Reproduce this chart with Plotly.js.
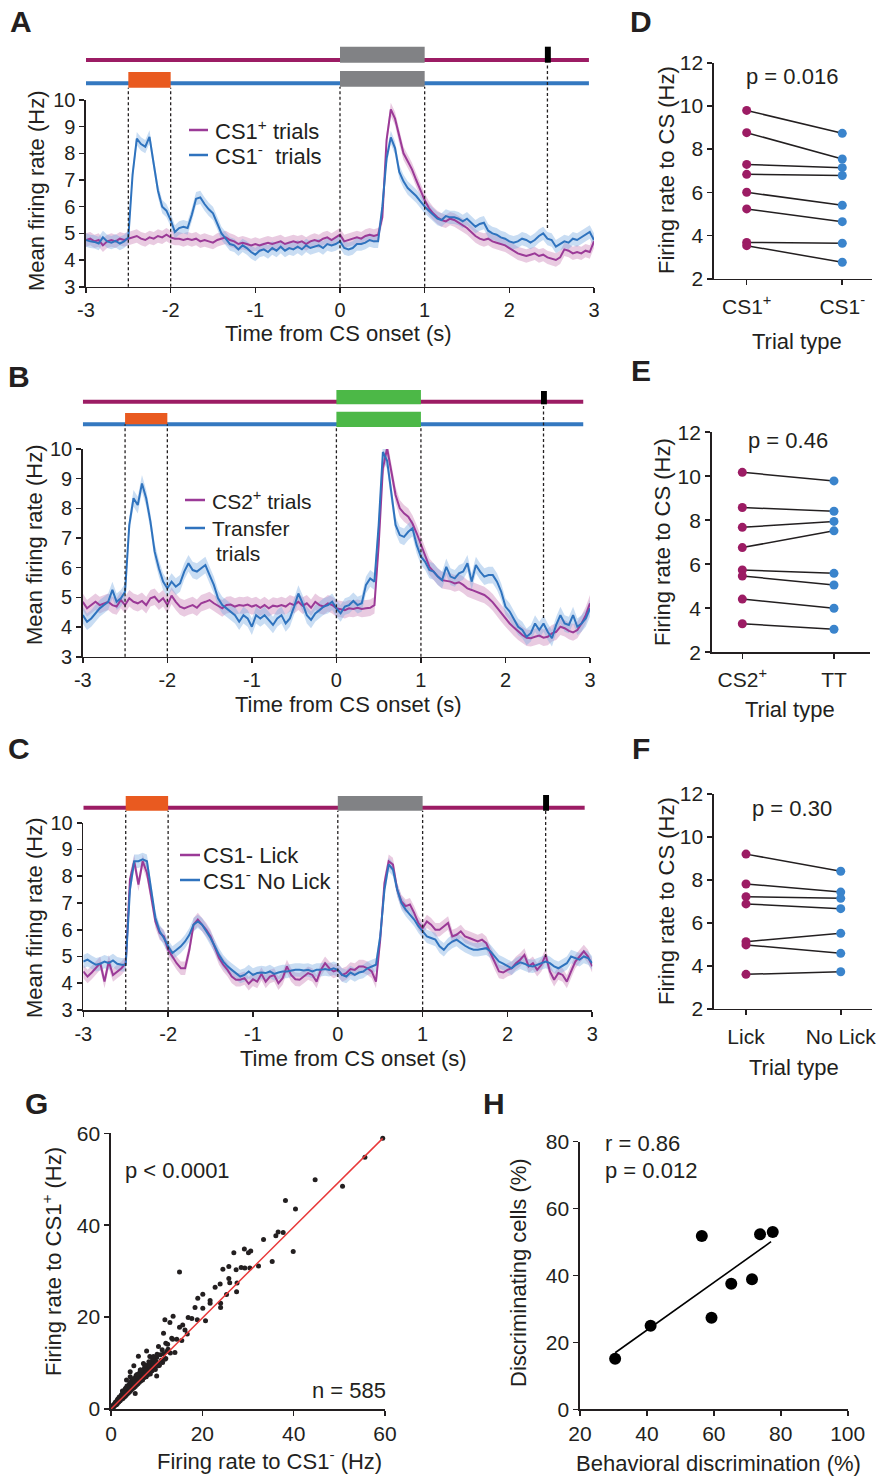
<!DOCTYPE html>
<html><head><meta charset="utf-8">
<script src="https://cdn.plot.ly/plotly-3.0.1.min.js"></script>
<style>html,body{margin:0;padding:0;background:#fff}#chart{width:881px;height:1477px}</style>
</head><body><div id="chart"></div>
<script>
// ---------------- DATA ----------------
const timeSec = Array.from({length:121}, (_, i) => +(-3 + 0.05*i).toFixed(2));
const timeTickVals = [-3,-2,-1,0,1,2,3];
const timeTickText = ['-3','-2','-1','0','1','2','3'];
const rateTickVals = [3,4,5,6,7,8,9,10];

// event times (s)
const cueOn = -2.5, cueOff = -2.0, csOn = 0, csOff = 1, rewardOn = 2.42, rewardOff = 2.49, rewardLine = 2.45, barEnd = 2.94;

// Panel A: CS1+ trials vs CS1- trials (Hz)
const aCS1plus = [4.75,4.8,4.7,4.75,4.55,4.7,4.75,4.7,4.8,4.75,
 4.8,4.85,4.9,4.8,4.75,4.85,4.8,4.9,4.85,4.95,
 4.85,4.8,4.8,4.75,4.8,4.75,4.8,4.7,4.75,4.7,
 4.65,4.75,4.8,4.85,4.75,4.7,4.6,4.65,4.6,4.55,
 4.6,4.55,4.6,4.65,4.6,4.65,4.7,4.6,4.65,4.7,
 4.65,4.7,4.6,4.7,4.75,4.7,4.8,4.85,4.75,4.85,
 4.95,4.7,4.75,4.8,4.85,4.8,4.9,4.95,4.9,4.95,
 5.6,8.5,9.65,9.3,8.6,8.0,7.7,7.4,7.0,6.6,
 6.25,5.95,5.75,5.6,5.5,5.45,5.55,5.5,5.4,5.3,
 5.2,5.05,4.9,4.8,4.75,4.8,4.7,4.65,4.6,4.55,
 4.45,4.35,4.25,4.2,4.15,4.2,4.25,4.15,4.2,4.1,
 4.05,4.0,4.1,4.4,4.35,4.25,4.3,4.25,4.35,4.3,
 4.7];
const aCS1minus = [4.75,4.70,4.68,4.62,4.85,4.70,4.65,4.72,4.62,4.70,
 4.85,7.2,8.55,8.35,8.25,8.62,7.6,6.6,6.0,5.85,
 5.5,5.05,5.2,5.25,5.2,5.7,6.3,6.35,6.1,5.9,
 5.75,5.4,5.0,4.8,4.6,4.55,4.4,4.55,4.45,4.3,
 4.2,4.35,4.4,4.3,4.45,4.35,4.5,4.35,4.45,4.4,
 4.5,4.4,4.55,4.45,4.5,4.55,4.45,4.6,4.55,4.6,
 4.7,4.45,4.4,4.45,4.6,4.6,4.65,4.75,4.7,4.7,
 6.0,7.8,8.6,8.2,7.3,6.95,6.7,6.55,6.4,6.2,
 6.0,5.85,5.7,5.55,5.5,5.65,5.6,5.6,5.55,5.45,
 5.55,5.4,5.25,5.35,5.4,5.1,5.0,4.95,4.85,4.8,
 4.7,4.65,4.7,4.8,4.75,4.65,4.75,4.9,5.0,4.8,
 4.75,4.5,4.6,4.7,4.65,4.8,4.75,4.85,4.95,5.05,
 4.75];

// Panel B: CS2+ trials vs Transfer trials (Hz)
const bCS2plus = [4.85,4.63,4.74,4.85,4.74,4.80,4.85,4.74,4.69,4.91,
 4.74,4.97,4.85,4.80,4.88,4.74,4.97,5.02,4.85,4.97,
 4.74,5.06,4.85,4.69,4.63,4.69,4.74,4.65,4.80,4.85,
 4.91,4.80,4.72,4.63,4.74,4.76,4.69,4.74,4.72,4.76,
 4.69,4.74,4.65,4.74,4.63,4.72,4.69,4.74,4.69,4.80,
 4.74,4.85,4.72,4.80,4.65,4.85,4.74,4.69,4.80,4.74,
 4.63,4.61,4.57,4.63,4.61,4.65,4.61,4.63,4.65,4.74,
 6.76,9.35,10.02,9.24,8.45,8.0,7.83,7.72,7.49,7.16,
 6.76,6.37,6.03,5.87,5.70,5.58,5.55,5.53,5.47,5.51,
 5.42,5.30,5.25,5.19,5.13,5.08,4.97,4.83,4.65,4.46,
 4.29,4.12,3.98,3.84,3.73,3.64,3.62,3.67,3.71,3.64,
 3.67,3.79,3.84,4.01,3.96,3.87,3.82,3.90,4.12,4.40,
 4.80];
const bTransfer = [4.40,4.18,4.29,4.46,4.63,4.74,4.85,5.25,4.85,4.97,
 5.19,7.44,8.34,8.11,8.84,8.34,7.55,6.54,5.98,5.53,
 5.30,5.53,5.36,5.47,5.87,6.15,5.92,5.87,5.98,6.09,
 5.75,5.42,4.97,4.74,4.63,4.52,4.40,4.18,4.40,4.29,
 4.01,4.40,4.29,4.40,4.24,4.07,4.29,4.40,4.12,4.29,
 4.69,5.13,4.80,4.40,4.24,4.46,4.57,4.69,4.74,4.85,
 4.63,4.46,4.69,4.74,4.88,4.74,4.80,5.42,5.64,5.53,
 7.44,9.9,9.6,8.45,7.44,7.10,7.04,7.21,7.33,6.76,
 6.37,6.20,5.92,5.87,5.70,5.58,6.03,5.70,5.64,5.81,
 5.87,6.15,5.53,6.09,5.87,5.70,5.75,5.75,5.53,5.19,
 4.69,4.52,4.24,4.01,3.90,3.67,3.79,4.12,3.90,4.12,
 3.84,3.62,4.07,4.40,4.12,4.07,4.40,4.01,4.12,4.29,
 4.63];

// Panel C: CS1- Lick vs CS1- No Lick (Hz)
const cLick = [4.44,4.25,4.40,4.56,4.75,4.06,4.81,4.31,4.44,4.56,
 4.75,7.88,8.56,7.69,8.56,8.13,7.25,6.31,5.88,5.75,
 5.25,5.0,4.75,4.56,4.56,5.25,6.19,6.38,6.19,6.0,
 5.75,5.31,4.94,4.69,4.5,4.25,4.13,4.13,4.19,3.98,
 4.15,4.06,4.35,4.06,4.25,4.31,4.0,4.19,4.63,4.31,
 4.15,4.13,4.25,4.38,4.31,4.06,4.5,4.75,4.56,4.44,
 4.5,4.31,4.38,4.53,4.5,4.63,4.63,4.56,4.44,4.06,
 5.63,7.75,8.56,8.44,7.5,7.06,6.88,6.94,6.63,6.25,
 6.06,6.31,6.19,6.0,6.0,6.13,6.25,5.75,5.81,5.94,
 5.75,5.69,5.63,5.56,5.63,5.5,5.13,4.75,4.44,4.40,
 4.5,4.56,4.75,4.88,5.06,4.63,4.75,4.5,4.69,5.06,
 4.44,4.13,4.38,4.31,4.06,4.44,4.81,5.0,5.19,5.0,
 4.63];
const cNoLick = [4.81,4.88,4.78,4.69,4.73,4.81,4.75,4.85,4.73,4.69,
 4.69,7.5,8.56,8.56,8.63,8.56,7.5,6.44,5.94,5.69,
 5.38,5.13,5.25,5.38,5.56,5.81,6.19,6.31,6.19,5.94,
 5.69,5.38,5.06,4.81,4.63,4.5,4.38,4.25,4.31,4.44,
 4.31,4.38,4.40,4.38,4.44,4.35,4.40,4.44,4.44,4.48,
 4.5,4.5,4.48,4.5,4.44,4.5,4.5,4.53,4.5,4.56,
 4.5,4.31,4.25,4.40,4.31,4.40,4.44,4.56,4.63,4.69,
 5.75,7.5,8.44,8.25,7.5,7.0,6.75,6.56,6.38,6.13,
 5.94,5.75,5.69,5.63,5.38,5.25,5.44,5.56,5.63,5.5,
 5.4,5.31,5.25,5.25,5.28,5.31,5.19,5.0,4.81,4.73,
 4.65,4.56,4.69,4.78,4.73,4.65,4.63,4.69,4.75,4.81,
 4.75,4.63,4.56,4.65,4.75,5.0,4.94,4.88,5.0,4.94,
 4.75];
const semA = 0.25, semB = 0.28, semC = 0.25;

// Panels D-F: per-animal firing rate to CS (Hz)
const dCategories = ['CS1<sup>+</sup>', 'CS1<sup>-</sup>'];
const dCS1plus  = [9.79, 8.76, 7.29, 6.83, 6.00, 5.23, 3.68, 3.53];
const dCS1minus = [8.73, 7.54, 7.14, 6.78, 5.40, 4.64, 3.64, 2.76];
const eCategories = ['CS2<sup>+</sup>', 'TT'];
const eCS2plus  = [10.18, 8.58, 7.68, 6.76, 5.74, 5.47, 4.42, 3.30];
const eTT       = [9.79, 8.41, 7.95, 7.52, 5.59, 5.06, 4.00, 3.05];
const fCategories = ['Lick', 'No Lick'];
const fLick     = [9.20, 7.81, 7.22, 6.88, 5.12, 4.97, 3.60];
const fNoLick   = [8.40, 7.43, 7.14, 6.66, 5.51, 4.58, 3.72];
const rateTicks = [2,4,6,8,10,12];

// Panel G: per-cell firing rates (Hz)
const gCS1minus = [59.5,55.6,44.7,50.7,38.2,40.4,33.4,36.1,36.6,37.7,39.9,35.3,32.3,30.4,29.3,28.5,26.9,29.2,30.1,30.6,
 15.0,24.5,25.8,27.4,25.8,26.0,27.6,23.9,22.8,25.3,27.5,20.1,19.0,21.7,21.7,24.0,24.0,18.4,20.1,20.7,
 18.9,16.9,17.7,11.8,13.6,12.9,15.0,15.7,16.2,16.7,15.5,13.3,11.5,14.4,12.0,10.4,7.8,6.0,5.0,10.0,
 14.0,12.2,11.3,9.4,8.5,7.1,6.4,4.2,4.2,3.4,5.3,
 0.2,0.3,0.4,0.5,0.6,0.7,0.8,0.9,1.0,1.1,1.2,1.3,1.4,1.5,1.6,1.7,1.8,1.9,2.0,2.1,
 2.2,2.3,2.4,2.5,2.6,2.7,2.8,2.9,3.0,3.1,3.2,3.3,3.4,3.5,3.6,3.7,3.8,3.9,4.0,4.1,
 4.2,4.3,4.4,4.5,4.6,4.7,4.8,4.9,5.0,5.1,5.2,5.3,5.4,5.5,5.6,5.7,5.8,5.9,6.0,6.1,
 6.2,6.3,6.4,6.5,6.6,6.7,6.8,7.0,7.1,7.2,7.4,7.5,7.6,7.8,7.9,8.0,8.2,8.4,8.5,8.7,
 8.9,9.0,9.2,9.5,9.6,10.0,10.2,10.4,10.8,11.0,11.5,12.0,12.5,13.0,
 0.1,0.3,0.6,1.0,1.4,1.8,2.2,2.6,3.0,3.4,3.8,4.2,4.6,5.0,5.4,5.8,6.2,
 0.5,1.2,2.0,2.8,3.6,4.4,5.2,6.0,6.8,7.6,8.4,9.0,9.8,3.0,4.0,5.0,6.0,7.0,8.0,
 2.5,3.5,4.5,5.5,6.5,7.5,
 1.5,2.3,3.1,3.9,4.7,5.6,6.4,7.3,8.1,9.1,10.1,11.2,12.4,13.5,6.9,7.7,8.6,9.7,10.6,11.8,
 3.2,4.1,4.9,5.7,6.6,7.4,8.3,9.3,2.9,3.7];
const gCS1plus = [58.9,54.8,49.9,48.5,45.4,43.5,36.9,37.7,38.5,38.4,34.3,32.1,31.1,30.7,30.7,30.8,34.0,34.8,34.0,34.4,
 29.8,30.4,31.0,30.3,28.4,27.5,27.4,27.2,26.5,24.9,25.5,25.0,24.1,23.6,23.0,23.0,22.1,22.1,21.9,19.2,
 19.4,19.9,19.7,19.4,20.2,18.8,17.8,18.3,17.2,16.3,14.9,15.4,16.5,15.2,14.3,13.6,12.6,11.5,9.4,7.2,
 12.3,12.5,10.1,10.8,11.4,9.9,8.5,8.1,7.0,6.3,3.4,
 0.3,0.5,0.4,0.8,0.6,1.0,0.7,1.3,1.1,0.9,1.6,1.4,1.2,2.0,1.7,1.5,2.3,2.0,1.8,2.6,
 2.4,2.1,3.0,2.7,2.3,3.3,3.0,2.6,3.7,3.3,2.9,4.0,3.6,3.2,4.4,3.9,3.5,4.7,4.2,3.8,
 5.0,4.6,4.1,5.4,4.9,4.4,5.7,5.2,4.6,6.0,5.5,4.9,6.3,5.8,5.2,6.7,6.1,5.5,7.0,6.4,
 5.8,7.4,6.7,6.1,7.8,7.0,6.4,8.2,7.4,6.8,8.6,7.8,7.1,9.0,8.2,7.4,9.4,8.6,7.8,10.0,
 9.0,8.3,10.5,9.6,8.8,11.2,10.0,9.4,11.8,10.6,12.0,11.0,13.0,12.2,
 0.1,0.2,0.9,1.5,1.9,2.6,2.9,3.5,4.1,4.5,4.9,5.5,5.9,6.4,6.9,7.3,7.8,
 0.3,1.0,2.4,3.4,4.1,5.1,5.9,6.6,7.5,8.4,9.2,9.8,10.4,2.8,3.8,5.3,6.0,7.2,8.0,
 3.9,5.0,6.2,7.3,8.5,9.3,
 2.2,3.1,4.3,5.1,6.0,7.1,7.9,8.8,9.6,10.9,11.9,12.9,14.1,15.2,6.3,7.0,7.6,8.6,9.5,10.8,
 4.5,5.6,6.6,7.5,8.4,9.5,10.3,11.4,3.8,4.8];
const gFitX = [0, 59.5], gFitY = [0, 58.9];

// Panel H: per-animal discrimination (%)
const hBehavior = [30.5, 41.1, 56.4, 59.3, 65.2, 71.4, 73.8, 77.6];
const hCells    = [15.1, 25.0, 51.8, 27.4, 37.5, 38.9, 52.3, 53.0];
const hFitX = [30.5, 77.1], hFitY = [16.9, 50.1];

// ---------------- STYLE ----------------
const W = 881, H = 1477;
const fx = p => p / W, fy = p => 1 - p / H;
const FONT = 'Liberation Sans, Arial, Helvetica, sans-serif';
const INK = '#231f20';
const MAG = '#9b3a97', MAG_BAND = 'rgba(200,125,180,0.40)';
const BLU = '#2f73be', BLU_BAND = 'rgba(120,170,225,0.40)';
const MAG_DOT = '#9c1c64', BLU_DOT = '#3a84cc';
const MAG_BAR = '#9c1c64', BLU_BAR = '#3478c0';
const GRAY = '#818285', ORANGE = '#e95a20', GREEN = '#4cb847';
const TICK_TS = 20, TICK_SM = 21, TITLE = 22;

const traces = [];
function addTimeSeries(xa, ya, series) {
  series.forEach(s => {
    const up = s.v.map(a => a + s.sem), lo = s.v.map(a => a - s.sem);
    traces.push({x: timeSec.concat(timeSec.slice().reverse()), y: up.concat(lo.slice().reverse()),
      fill: 'toself', fillcolor: s.band, line: {width: 0}, mode: 'lines', showlegend: false,
      hoverinfo: 'skip', xaxis: xa, yaxis: ya});
  });
  series.forEach(s => {
    traces.push({x: timeSec, y: s.v, mode: 'lines', line: {color: s.color, width: 2},
      name: s.name, showlegend: false, xaxis: xa, yaxis: ya});
  });
}
const seriesA = [
  {v: aCS1plus, sem: semA, color: MAG, band: MAG_BAND, name: 'CS1<sup>+</sup> trials'},
  {v: aCS1minus, sem: semA, color: BLU, band: BLU_BAND, name: 'CS1<sup>-</sup>  trials'}];
const seriesB = [
  {v: bCS2plus, sem: semB, color: MAG, band: MAG_BAND, name: 'CS2<sup>+</sup> trials'},
  {v: bTransfer, sem: semB, color: BLU, band: BLU_BAND, name: 'Transfer'}];
const seriesC = [
  {v: cLick, sem: semC, color: MAG, band: MAG_BAND, name: 'CS1- Lick'},
  {v: cNoLick, sem: semC, color: BLU, band: BLU_BAND, name: 'CS1<sup>-</sup> No Lick'}];
addTimeSeries('x', 'y', seriesA);
addTimeSeries('x2', 'y2', seriesB);
addTimeSeries('x3', 'y3', seriesC);

function addPairs(xa, ya, cats, a, b) {
  a.forEach((va, i) => {
    traces.push({x: [cats[0], cats[1]], y: [va, b[i]], mode: 'lines+markers',
      line: {color: INK, width: 1.5}, marker: {size: 9, color: [MAG_DOT, BLU_DOT]},
      showlegend: false, cliponaxis: false, xaxis: xa, yaxis: ya});
  });
}
addPairs('x4', 'y4', dCategories, dCS1plus, dCS1minus);
addPairs('x5', 'y5', eCategories, eCS2plus, eTT);
addPairs('x6', 'y6', fCategories, fLick, fNoLick);

traces.push({x: gCS1minus, y: gCS1plus, mode: 'markers', marker: {size: 5, color: INK},
  showlegend: false, cliponaxis: false, xaxis: 'x7', yaxis: 'y7'});
traces.push({x: gFitX, y: gFitY, mode: 'lines', line: {color: '#e8393a', width: 1.5},
  showlegend: false, xaxis: 'x7', yaxis: 'y7'});
traces.push({x: hFitX, y: hFitY, mode: 'lines', line: {color: '#000', width: 1.6},
  showlegend: false, xaxis: 'x8', yaxis: 'y8'});
traces.push({x: hBehavior, y: hCells, mode: 'markers', marker: {size: 12, color: '#000'},
  showlegend: false, cliponaxis: false, xaxis: 'x8', yaxis: 'y8'});

// ---------------- AXES ----------------
const base = {showline: true, linecolor: INK, linewidth: 1.6, ticks: 'outside', ticklen: 5,
  tickwidth: 1.6, tickcolor: INK, showgrid: false, zeroline: false, fixedrange: true,
  tickfont: {family: FONT, size: TICK_TS, color: INK}};
const smallFont = {family: FONT, size: TICK_SM, color: INK};
const timeX = (d, a) => Object.assign({}, base, {domain: d, anchor: a, range: [-3, 3],
  tickmode: 'array', tickvals: timeTickVals, ticktext: timeTickText});
const rateY = (d, a) => Object.assign({}, base, {domain: d, anchor: a, range: [3, 10],
  tickmode: 'array', tickvals: rateTickVals});
const catX = (d, a, r) => Object.assign({}, base, {domain: d, anchor: a, type: 'category', range: r,
  tickfont: smallFont, ticklabelstandoff: 3});
const csY = (d, a) => Object.assign({}, base, {domain: d, anchor: a, range: [2, 12],
  tickmode: 'array', tickvals: rateTicks, tickfont: smallFont});

// ---------------- SHAPES ----------------
const shapes = [];
function hline(xref, x0, x1, y, color) {
  shapes.push({type: 'line', xref, yref: 'paper', x0, x1, y0: fy(y), y1: fy(y), line: {color, width: 4}});
}
function rect(xref, x0, x1, yTop, yBot, color) {
  shapes.push({type: 'rect', xref, yref: 'paper', x0, x1, y0: fy(yBot), y1: fy(yTop), fillcolor: color, line: {width: 0}});
}
function vdash(xref, x, yTop, yBot) {
  shapes.push({type: 'line', xref, yref: 'paper', x0: x, x1: x, y0: fy(yBot), y1: fy(yTop),
    line: {color: INK, width: 1.3, dash: '3px,2.5px'}});
}
// Panel A
hline('x', -3, barEnd, 60, MAG_BAR); hline('x', -3, barEnd, 83.3, BLU_BAR);
rect('x', csOn, csOff, 46.7, 62.7, GRAY); rect('x', csOn, csOff, 71, 86.7, GRAY);
rect('x', cueOn, cueOff, 72, 87.7, ORANGE); rect('x', rewardOn, rewardOff, 46.7, 62.7, '#000');
[cueOn, cueOff].forEach(t => vdash('x', t, 87.7, 286.7));
[csOn, csOff].forEach(t => vdash('x', t, 86.7, 286.7));
vdash('x', rewardLine, 62.7, 228);
// Panel B
hline('x2', -3, 2.92, 401.7, MAG_BAR); hline('x2', -3, 2.92, 424.3, BLU_BAR);
rect('x2', csOn, csOff, 390, 404.3, GREEN); rect('x2', csOn, csOff, 411.7, 427, GREEN);
rect('x2', cueOn, cueOff, 413, 424.3, ORANGE); rect('x2', rewardOn, rewardOff, 391, 404.3, '#000');
[cueOn, cueOff].forEach(t => vdash('x2', t, 424.3, 656.7));
[csOn, csOff].forEach(t => vdash('x2', t, 427, 656.7));
vdash('x2', rewardLine, 404.3, 618);
// Panel C
hline('x3', -3, 2.91, 807.7, MAG_BAR);
rect('x3', cueOn, cueOff, 796, 810.7, ORANGE); rect('x3', csOn, csOff, 796, 810.7, GRAY);
rect('x3', rewardOn, rewardOff, 795, 810.7, '#000');
[cueOn, cueOff, csOn, csOff].forEach(t => vdash('x3', t, 810.7, 1010));
vdash('x3', rewardLine, 810.7, 957);

// ---------------- ANNOTATIONS ----------------
const ann = [];
function txt(text, x, y, opt) {
  ann.push(Object.assign({text, x: fx(x), y: fy(y), xref: 'paper', yref: 'paper', showarrow: false,
    xanchor: 'center', yanchor: 'middle', borderpad: 0,
    font: {family: FONT, size: TITLE, color: INK}}, opt || {}));
}
// hand-placed legends (short line sample + label)
function legendItem(s, x0, x1, y, tx, fsize) {
  shapes.push({type: 'line', xref: 'paper', yref: 'paper', x0: fx(x0), x1: fx(x1), y0: fy(y), y1: fy(y),
    line: {color: s.color, width: 2.5}});
  txt(s.name, tx, y, {xanchor: 'left', font: {family: FONT, size: fsize || TITLE, color: INK}});
}
legendItem(seriesA[0], 189, 208, 130, 214); legendItem(seriesA[1], 189, 208, 155, 214);
legendItem(seriesB[0], 185, 205, 500, 211, 21); legendItem(seriesB[1], 185, 205, 528, 211, 21);
txt('trials', 215, 553, {xanchor: 'left', font: {family: FONT, size: 21, color: INK}});
legendItem(seriesC[0], 180, 200, 855, 202); legendItem(seriesC[1], 180, 200, 880, 202);

const bold = {font: {family: FONT, size: 30, color: INK, weight: 'bold'}};
txt('<b>A</b>', 21, 22, bold); txt('<b>B</b>', 19, 377, bold); txt('<b>C</b>', 19, 748, bold);
txt('<b>D</b>', 641, 22, bold); txt('<b>E</b>', 641, 370, bold); txt('<b>F</b>', 641, 748, bold);
txt('<b>G</b>', 36, 1103, bold); txt('<b>H</b>', 494, 1103, bold);
txt('Time from CS onset (s)', 338, 334); txt('Time from CS onset (s)', 348, 704); txt('Time from CS onset (s)', 353, 1058);
txt('Mean firing rate (Hz)', 36, 191, {textangle: -90}); txt('Mean firing rate (Hz)', 34, 545, {textangle: -90});
txt('Mean firing rate (Hz)', 34, 918, {textangle: -90});
txt('Firing rate to CS (Hz)', 666, 170, {textangle: -90}); txt('Firing rate to CS (Hz)', 663, 542, {textangle: -90});
txt('Firing rate to CS (Hz)', 666, 901, {textangle: -90});
txt('Trial type', 797, 341); txt('Trial type', 790, 709); txt('Trial type', 794, 1067);
txt('p = 0.016', 792, 77); txt('p = 0.46', 788, 440); txt('p = 0.30', 792, 809);
txt('p < 0.0001', 124, 1170, {xanchor: 'left'}); txt('n = 585', 387, 1390, {xanchor: 'right'});
txt('Firing rate to CS1<sup>+</sup> (Hz)', 52, 1262, {textangle: -90});
txt('Firing rate to CS1<sup>-</sup> (Hz)', 269, 1460);
txt('r = 0.86', 604, 1143, {xanchor: 'left'}); txt('p = 0.012', 604, 1170, {xanchor: 'left'});
txt('Discriminating cells (%)', 518, 1273, {textangle: -90});
txt('Behavioral discrimination (%)', 718, 1463);

const layout = {
  width: W, height: H, margin: {l: 0, r: 0, t: 0, b: 0}, paper_bgcolor: '#fff', plot_bgcolor: 'rgba(0,0,0,0)',
  font: {family: FONT, color: INK}, showlegend: false, hovermode: false,
  xaxis: timeX([fx(86), fx(594)], 'y'), yaxis: rateY([fy(286.7), fy(100)], 'x'),
  xaxis2: timeX([fx(82.8), fx(590)], 'y2'), yaxis2: rateY([fy(656.7), fy(449)], 'x2'),
  xaxis3: timeX([fx(83.3), fx(592.3)], 'y3'), yaxis3: rateY([fy(1010), fy(822.7)], 'x3'),
  xaxis4: catX([fx(714), fx(872)], 'y4', [-0.342, 1.311]), yaxis4: csY([fy(278.7), fy(62.7)], 'x4'),
  xaxis5: catX([fx(711.7), fx(870)], 'y5', [-0.334, 1.393]), yaxis5: csY([fy(652.3), fy(432.3)], 'x5'),
  xaxis6: catX([fx(714), fx(871.7)], 'y6', [-0.338, 1.327]), yaxis6: csY([fy(1008.7), fy(794)], 'x6'),
  xaxis7: Object.assign({}, base, {domain: [fx(111), fx(385)], anchor: 'y7', range: [0, 60], dtick: 20, tickfont: smallFont}),
  yaxis7: Object.assign({}, base, {domain: [fy(1409), fy(1133.3)], anchor: 'x7', range: [0, 60], dtick: 20, tickfont: smallFont}),
  xaxis8: Object.assign({}, base, {domain: [fx(580), fx(847.7)], anchor: 'y8', range: [20, 100], dtick: 20, tickfont: smallFont}),
  yaxis8: Object.assign({}, base, {domain: [fy(1409.3), fy(1141.7)], anchor: 'x8', range: [0, 80], dtick: 20, tickfont: smallFont}),
  shapes, annotations: ann
};

Plotly.newPlot('chart', traces, layout, {staticPlot: true, displayModeBar: false});
</script></body></html>
